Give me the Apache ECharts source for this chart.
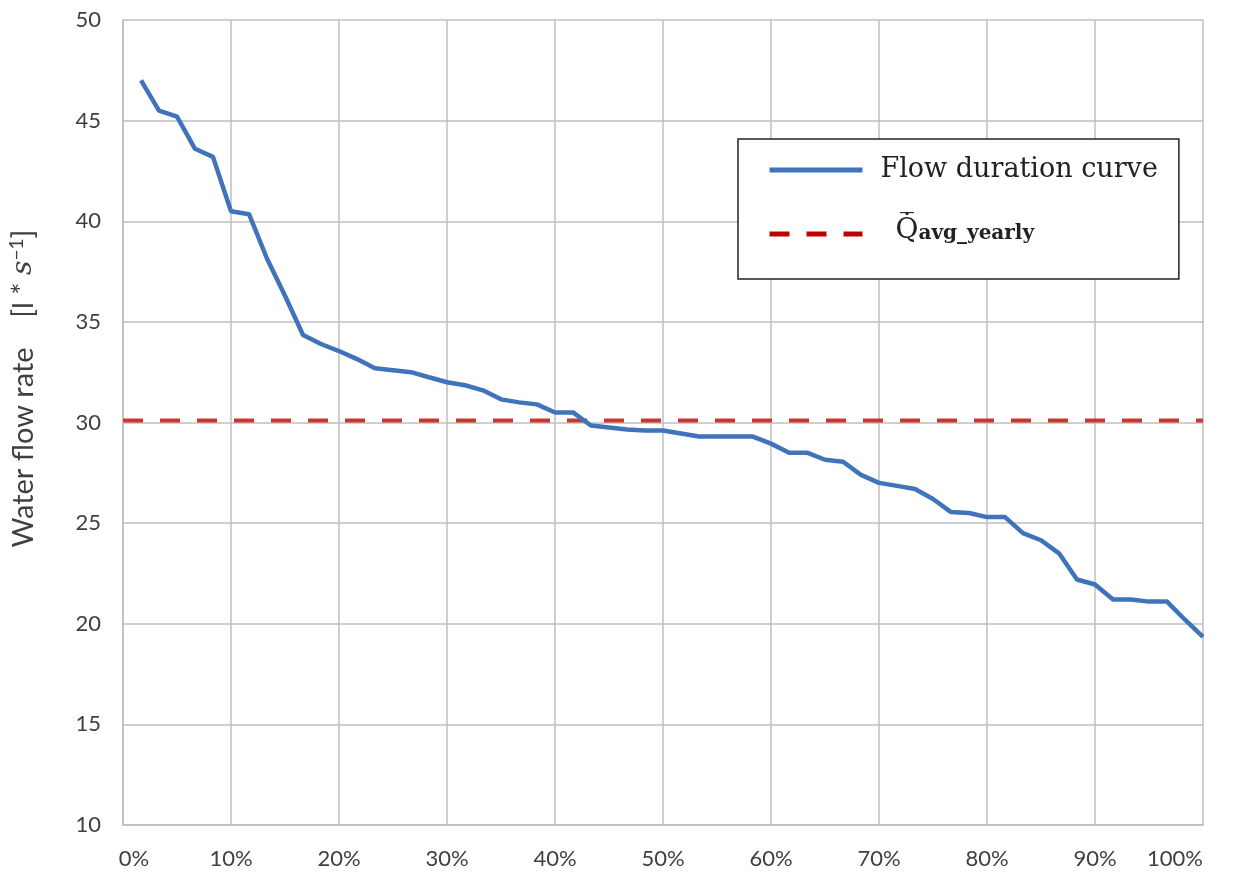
<!DOCTYPE html>
<html lang="en">

<head>
    <meta charset="UTF-8">
    <title>Flow duration curve</title>
    <script src="https://cdn.jsdelivr.net/npm/echarts@6.0.0/dist/echarts.min.js"></script>
    <style>
        html, body { margin: 0; padding: 0; background: #fff; }
    </style>
</head>

<body>
    <div id="main" style="width: 1245px; height: 881px;"></div>

    <script type="text/javascript">
        // exceedance probability (%) for each sorted flow value
        const exceedancePct = [
            1.67, 3.33, 5, 6.67, 8.33, 10, 11.67, 13.33, 15, 16.67,
            18.33, 20, 21.67, 23.33, 25, 26.67, 28.33, 30, 31.67, 33.33,
            35, 36.67, 38.33, 40, 41.67, 43.33, 45, 46.67, 48.33, 50,
            51.67, 53.33, 55, 56.67, 58.33, 60, 61.67, 63.33, 65, 66.67,
            68.33, 70, 71.67, 73.33, 75, 76.67, 78.33, 80, 81.67, 83.33,
            85, 86.67, 88.33, 90, 91.67, 93.33, 95, 96.67, 98.33, 100
        ];

        // water flow rate, l/s
        const flowRate = [
            47.0, 45.5, 45.2, 43.6, 43.2, 40.5, 40.35, 38.15, 36.3, 34.35,
            33.9, 33.55, 33.15, 32.7, 32.6, 32.5, 32.25, 32.0, 31.85, 31.6,
            31.15, 31.0, 30.9, 30.5, 30.5, 29.85, 29.75, 29.65, 29.6, 29.6,
            29.45, 29.3, 29.3, 29.3, 29.3, 28.95, 28.5, 28.5, 28.15, 28.05,
            27.4, 27.0, 26.85, 26.7, 26.2, 25.55, 25.5, 25.3, 25.3, 24.5,
            24.15, 23.5, 22.2, 21.95, 21.2, 21.2, 21.1, 21.1, 20.2, 19.35
        ];

        const avgFlow = 30.1;
        const avgRange = [0, 100];

        const curveName = 'Flow duration curve';
        const avgName = 'Q avg yearly';

        const axisFont = 'Lato';
        const legendFont = 'DejaVu Serif';
        const blue = '#3f74bb';
        const red = '#c8382e';

        let myChart = echarts.init(document.getElementById('main'));

        let options = {
            animation: false,
            backgroundColor: '#fff',
            grid: {
                left: 123,
                right: 42,
                top: 20,
                bottom: 56,
                containLabel: false,
                outerBoundsMode: 'none'
            },
            legend: {
                orient: 'vertical',
                left: 738,
                top: 139,
                padding: [15, 21, 29, 29],
                itemGap: 31,
                itemWidth: 93,
                itemHeight: 14,
                borderColor: '#222',
                borderWidth: 1.5,
                backgroundColor: '#fff',
                itemStyle: { opacity: 0 },
                lineStyle: { width: 5 },
                data: [
                    { name: curveName },
                    { name: avgName, lineStyle: { color: '#c00000', width: 5 } }
                ],
                textStyle: {
                    fontFamily: legendFont,
                    fontSize: 27,
                    color: '#222',
                    lineHeight: 32,
                    padding: [0, 0, 0, 13],
                    rich: {
                        q: {
                            fontFamily: legendFont,
                            fontSize: 28,
                            color: '#222',
                            padding: [0, 0, 6, 15]
                        },
                        sub: {
                            fontFamily: legendFont,
                            fontSize: 20,
                            fontWeight: 'bold',
                            color: '#222'
                        }
                    }
                },
                formatter: function (name) {
                    if (name === avgName) {
                        return '{q|Q\u0307\u0305}{sub|avg_yearly}';
                    }
                    return name;
                }
            },
            xAxis: {
                type: 'value',
                min: 0,
                max: 100,
                interval: 10,
                axisLine: { show: true, lineStyle: { color: '#bfbfbf', width: 1.5 } },
                axisTick: { show: false },
                splitLine: { show: true, lineStyle: { color: '#bfbfbf', width: 1.5 } },
                axisLabel: {
                    formatter: function (v) {
                        return v === 0 ? '{m|0%}' : v + '%';
                    },
                    fontFamily: axisFont,
                    fontSize: 22,
                    color: '#404040',
                    margin: 23,
                    alignMaxLabel: 'right',
                    rich: {
                        m: { fontFamily: axisFont, fontSize: 22, color: '#404040', padding: [0, 0, 0, 22] }
                    }
                }
            },
            yAxis: {
                type: 'value',
                min: 10,
                max: 50,
                interval: 5,
                name: 'Water flow rate    {b|[l * }{i|s}{sup|\u22121}{b|]}',
                nameLocation: 'middle',
                nameGap: 83,
                nameTextStyle: {
                    fontFamily: axisFont,
                    fontSize: 29,
                    color: '#404040',
                    padding: [0, 0, 0, 68],
                    rich: {
                        b: { fontFamily: axisFont, fontSize: 29, color: '#404040' },
                        i: { fontFamily: 'DejaVu Serif', fontStyle: 'italic', fontSize: 28, color: '#404040' },
                        sup: { fontFamily: axisFont, fontSize: 19, color: '#404040', padding: [0, 0, 14, 0] }
                    }
                },
                axisLine: { show: true, lineStyle: { color: '#bfbfbf', width: 1.5 } },
                axisTick: { show: false },
                splitLine: { show: true, lineStyle: { color: '#bfbfbf', width: 1.5 } },
                axisLabel: {
                    fontFamily: axisFont,
                    fontSize: 22,
                    color: '#404040',
                    margin: 22
                }
            },
            series: [
                {
                    name: curveName,
                    type: 'line',
                    symbol: 'none',
                    data: exceedancePct.map((p, i) => [p, flowRate[i]]),
                    lineStyle: { color: blue, width: 4.5 },
                    itemStyle: { color: blue },
                    z: 3
                },
                {
                    name: avgName,
                    type: 'line',
                    symbol: 'none',
                    data: avgRange.map(x => [x, avgFlow]),
                    lineStyle: { color: red, width: 4, type: [20, 17] },
                    itemStyle: { color: red },
                    z: 2
                }
            ]
        };

        myChart.setOption(options);

        window.addEventListener('resize', () => {
            myChart.resize();
        });
    </script>
</body>

</html>
